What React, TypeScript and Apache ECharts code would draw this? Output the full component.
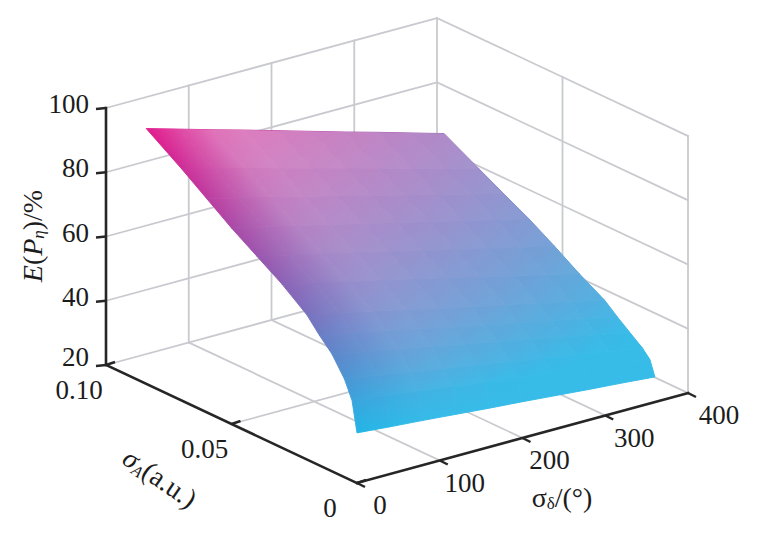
import React, { useEffect, useRef } from "react";
import * as echarts from "echarts";

// σ_A (a.u.) grid of the surface
const sigmaA = [0, 0.002, 0.005, 0.01, 0.015, 0.02, 0.03, 0.04, 0.05, 0.06, 0.07, 0.084];
// σ_δ (°) grid of the surface
const sigmaD = [0, 40, 80, 120, 160, 200, 240, 280, 320, 360];
// E(P_η) (%) — one row per σ_A value, columns follow σ_δ
const eA000 = [35.6, 34.7, 33.9, 33.0, 32.1, 31.3, 30.4, 29.5, 28.7, 27.8];
const eA002 = [45.0, 43.6, 42.2, 40.8, 39.4, 38.1, 36.7, 35.3, 33.9, 32.5];
const eA005 = [50.5, 48.8, 47.1, 45.3, 43.6, 41.9, 40.2, 38.4, 36.7, 35.0];
const eA010 = [56.5, 54.4, 52.4, 50.3, 48.3, 46.2, 44.2, 42.1, 40.1, 38.0];
const eA015 = [60.5, 58.3, 56.2, 54.0, 51.8, 49.7, 47.5, 45.3, 43.2, 41.0];
const eA020 = [65.0, 62.7, 60.4, 58.1, 55.8, 53.5, 51.2, 48.9, 46.6, 44.3];
const eA030 = [71.0, 68.5, 66.1, 63.6, 61.1, 58.7, 56.2, 53.7, 51.3, 48.8];
const eA040 = [76.0, 73.5, 71.1, 68.6, 66.1, 63.7, 61.2, 58.7, 56.3, 53.8];
const eA050 = [81.0, 78.5, 76.0, 73.5, 71.0, 68.5, 66.0, 63.5, 61.0, 58.5];
const eA060 = [86.6, 83.9, 81.3, 78.6, 75.9, 73.3, 70.6, 67.9, 65.3, 62.6];
const eA070 = [92.2, 89.4, 86.6, 83.7, 80.9, 78.1, 75.3, 72.4, 69.6, 66.8];
const eA084 = [99.5, 96.5, 93.5, 90.6, 87.6, 84.6, 81.6, 78.7, 75.7, 72.7];
const eRows = [eA000, eA002, eA005, eA010, eA015, eA020, eA030, eA040, eA050, eA060, eA070, eA084];

// axis ticks
const zTicks = [20, 40, 60, 80, 100];
const zTickLabels = ["20", "40", "60", "80", "100"];
const aTicks = [0, 0.05, 0.1];
const aTickLabels = ["0", "0.05", "0.10"];
const dTicks = [0, 100, 200, 300, 400];
const dTickLabels = ["0", "100", "200", "300", "400"];

const A_MIN = 0, A_MAX = 0.1, D_MIN = 0, D_MAX = 400, Z_MIN = 20, Z_MAX = 100;

// orthographic view of the 3D box onto the page
const ORIGIN = [357, 483];
const VD = [0.8275, -0.225];
const VA = [-2510, -1180];
const VZ = -3.2125;
function proj(a: number, d: number, z: number): number[] {
  return [
    ORIGIN[0] + VD[0] * d + VA[0] * a,
    ORIGIN[1] + VD[1] * d + VA[1] * a + VZ * (z - Z_MIN),
  ];
}

const FONT = "'Liberation Serif', 'Times New Roman', serif";
const TXT = "#1c1c1c";
const GRID_COL = "#c9cacf";
const AXIS_COL = "#262626";
const FS = 27;

const allE = eRows.flat();
const eMax = Math.max(...allE);
const C_FLOOR = 38;
const LO = [36, 181, 230];
const HI = [228, 26, 140];
function fracOf(v: number) {
  return Math.max(0, Math.min(1, (v - C_FLOOR) / (eMax - C_FLOOR)));
}
function colorOf(v: number): string {
  const f = fracOf(v);
  const c = [0, 1, 2].map((k) => Math.round(LO[k] + (HI[k] - LO[k]) * f));
  return `rgb(${c[0]},${c[1]},${c[2]})`;
}
function sheen(d: number, v: number): number {
  return 0.44 * Math.min(1, d / 90) * (0.2 + 0.8 * fracOf(v));
}

type Seg = { p: number[]; q: number[]; col: string; w: number };

export default function App() {
  const ref = useRef<HTMLDivElement>(null);
  useEffect(() => {
    if (!ref.current) return;
    const chart = echarts.init(ref.current, null, { renderer: "svg" });

    // box grid lines
    const gridSegs: Seg[] = [];
    const g = (a1: number, d1: number, z1: number, a2: number, d2: number, z2: number) =>
      gridSegs.push({ p: [a1, d1, z1], q: [a2, d2, z2], col: GRID_COL, w: 1.8 });
    zTicks.forEach((z) => g(A_MAX, D_MIN, z, A_MAX, D_MAX, z));
    dTicks.filter((d) => d > D_MIN).forEach((d) => g(A_MAX, d, Z_MIN, A_MAX, d, Z_MAX));
    zTicks.forEach((z) => g(A_MAX, D_MAX, z, A_MIN, D_MAX, z));
    aTicks.filter((a) => a < A_MAX).forEach((a) => g(a, D_MAX, Z_MIN, a, D_MAX, Z_MAX));
    dTicks.filter((d) => d > D_MIN && d < D_MAX).forEach((d) => g(A_MIN, d, Z_MIN, A_MAX, d, Z_MIN));
    aTicks.filter((a) => a > A_MIN && a < A_MAX).forEach((a) => g(a, D_MIN, Z_MIN, a, D_MAX, Z_MIN));

    // surface cells, far to near
    const cells: number[][] = [];
    for (let i = sigmaA.length - 2; i >= 0; i--)
      for (let j = sigmaD.length - 2; j >= 0; j--) cells.push([i, j]);

    const cellCorners = (api: any, i: number, j: number) => {
      const corner = (a: number, b: number) => api.coord(proj(sigmaA[a], sigmaD[b], eRows[a][b]));
      return [corner(i, j), corner(i, j + 1), corner(i + 1, j + 1), corner(i + 1, j)];
    };

    // dark axes
    const axisSegs: Seg[] = [
      { p: [A_MAX, D_MIN, Z_MIN], q: [A_MAX, D_MIN, Z_MAX], col: AXIS_COL, w: 2.6 },
      { p: [A_MAX, D_MIN, Z_MIN], q: [A_MIN, D_MIN, Z_MIN], col: AXIS_COL, w: 2.6 },
      { p: [A_MIN, D_MIN, Z_MIN], q: [A_MIN, D_MAX, Z_MIN], col: AXIS_COL, w: 2.6 },
    ];
    // ticks: [a, d, z, dx, dy]
    const tickDefs: number[][] = [];
    zTicks.forEach((z) => tickDefs.push([A_MAX, D_MIN, z, -10, 1]));
    aTicks.forEach((a) => tickDefs.push([a, D_MIN, Z_MIN, 9, -3]));
    dTicks.forEach((d) => tickDefs.push([A_MIN, d, Z_MIN, 8, 4]));

    // tick labels: [a, d, z, dx, dy, text, align]
    const labels: any[] = [];
    zTicks.forEach((z, k) => labels.push([A_MAX, D_MIN, z, -17, k === 0 ? -8 : -4, zTickLabels[k], "right"]));
    aTicks.forEach((a, k) => labels.push([a, D_MIN, Z_MIN, -27, 25, aTickLabels[k], "center"]));
    dTicks.forEach((d, k) => labels.push([A_MIN, d, Z_MIN, 23 + k * 2, 22, dTickLabels[k], "center"]));

    const segRender = (segs: Seg[]) => (params: any, api: any) => {
      const s = segs[params.dataIndex];
      const p = api.coord(proj(s.p[0], s.p[1], s.p[2]));
      const q = api.coord(proj(s.q[0], s.q[1], s.q[2]));
      return {
        type: "line",
        shape: { x1: p[0], y1: p[1], x2: q[0], y2: q[1] },
        style: { stroke: s.col, lineWidth: s.w, lineCap: "square" },
      };
    };

    const base = {
      type: "custom",
      coordinateSystem: "cartesian2d",
      silent: true,
      clip: false,
    };

    chart.setOption({
      animation: false,
      backgroundColor: "#ffffff",
      grid: { left: 0, right: 0, top: 0, bottom: 0 },
      xAxis: { type: "value", min: 0, max: 770, show: false },
      yAxis: { type: "value", min: 0, max: 538, inverse: true, show: false },
      series: [
        {
          ...base,
          name: "box",
          z: 1,
          data: gridSegs.map((_, i) => [i, 0]),
          renderItem: segRender(gridSegs),
        },
        {
          ...base,
          name: "surface",
          z: 2,
          data: cells.map((_, i) => [i, 0]),
          renderItem: (params: any, api: any) => {
            const [i, j] = cells[params.dataIndex];
            const [p00, p01, p11, p10] = cellCorners(api, i, j);
            const v0 = (eRows[i][j] + eRows[i][j + 1]) / 2;
            const v1 = (eRows[i + 1][j] + eRows[i + 1][j + 1]) / 2;
            const s = [(p00[0] + p01[0]) / 2, (p00[1] + p01[1]) / 2];
            const e = [(p10[0] + p11[0]) / 2, (p10[1] + p11[1]) / 2];
            const fill = {
              type: "linear",
              x: s[0],
              y: s[1],
              x2: e[0],
              y2: e[1],
              global: true,
              colorStops: [
                { offset: 0, color: colorOf(v0) },
                { offset: 1, color: colorOf(v1) },
              ],
            };
            return {
              type: "polygon",
              shape: { points: [p00, p01, p11, p10] },
              style: { fill, stroke: fill, lineWidth: 0.9, lineJoin: "round" },
            };
          },
        },
        {
          ...base,
          name: "surface sheen",
          z: 2,
          data: cells.map((_, i) => [i, 0]),
          renderItem: (params: any, api: any) => {
            const [i, j] = cells[params.dataIndex];
            const [p00, p01, p11, p10] = cellCorners(api, i, j);
            const vc = (eRows[i][j] + eRows[i][j + 1] + eRows[i + 1][j] + eRows[i + 1][j + 1]) / 4;
            const ex = p10[0] - p00[0], ey = p10[1] - p00[1];
            const len = Math.hypot(ex, ey) || 1;
            const nx = -ey / len, ny = ex / len;
            const dist = (p01[0] - p00[0]) * nx + (p01[1] - p00[1]) * ny;
            const a0 = sheen(sigmaD[j], vc);
            const a1 = sheen(sigmaD[j + 1], vc);
            const overlay = {
              type: "linear",
              x: p00[0],
              y: p00[1],
              x2: p00[0] + nx * dist,
              y2: p00[1] + ny * dist,
              global: true,
              colorStops: [
                { offset: 0, color: `rgba(255,255,255,${a0.toFixed(3)})` },
                { offset: 1, color: `rgba(255,255,255,${a1.toFixed(3)})` },
              ],
            };
            return {
              type: "polygon",
              shape: { points: [p00, p01, p11, p10] },
              style: { fill: overlay },
            };
          },
        },
        {
          ...base,
          name: "axes",
          z: 3,
          data: axisSegs.map((_, i) => [i, 0]),
          renderItem: segRender(axisSegs),
        },
        {
          ...base,
          name: "ticks",
          z: 3,
          data: tickDefs.map((_, i) => [i, 0]),
          renderItem: (params: any, api: any) => {
            const t = tickDefs[params.dataIndex];
            const p = api.coord(proj(t[0], t[1], t[2]));
            return {
              type: "line",
              shape: { x1: p[0], y1: p[1], x2: p[0] + t[3], y2: p[1] + t[4] },
              style: { stroke: AXIS_COL, lineWidth: 2.4 },
            };
          },
        },
        {
          ...base,
          name: "labels",
          z: 4,
          data: labels.map((_, i) => [i, 0]),
          renderItem: (params: any, api: any) => {
            const l = labels[params.dataIndex];
            const p = api.coord(proj(l[0], l[1], l[2]));
            return {
              type: "text",
              x: p[0] + l[3],
              y: p[1] + l[4],
              style: {
                text: l[5],
                fontFamily: FONT,
                fontSize: FS,
                fill: TXT,
                align: l[6],
                verticalAlign: "middle",
              },
            };
          },
        },
      ],
      graphic: [
        {
          type: "text",
          x: 32,
          y: 236,
          rotation: Math.PI / 2,
          silent: true,
          style: {
            text: "{i|E}{n|(}{i|P}{s|η}{n|)/%}",
            align: "center",
            verticalAlign: "middle",
            rich: {
              i: { fontFamily: FONT, fontSize: 28, fontStyle: "italic", fill: TXT, lineHeight: 30 },
              n: { fontFamily: FONT, fontSize: 28, fill: TXT, lineHeight: 30 },
              s: { fontFamily: FONT, fontSize: 17, fontStyle: "italic", fill: TXT, verticalAlign: "bottom", lineHeight: 19, padding: [9, 0, 0, 0] },
            },
          },
        },
        {
          type: "text",
          x: 160,
          y: 478,
          rotation: -0.6,
          silent: true,
          style: {
            text: "{i|σ}{s|A}{n|(a.u.)}",
            align: "center",
            verticalAlign: "middle",
            rich: {
              i: { fontFamily: FONT, fontSize: 28, fontStyle: "italic", fill: TXT, lineHeight: 30 },
              n: { fontFamily: FONT, fontSize: 28, fill: TXT, lineHeight: 30 },
              s: { fontFamily: FONT, fontSize: 16, fontStyle: "italic", fill: TXT, verticalAlign: "bottom", lineHeight: 19, padding: [9, 0, 0, 0] },
            },
          },
        },
        {
          type: "text",
          x: 562,
          y: 497,
          silent: true,
          style: {
            text: "{n|σ}{s|δ}{n|/(°)}",
            align: "center",
            verticalAlign: "middle",
            rich: {
              n: { fontFamily: FONT, fontSize: 28, fill: TXT, lineHeight: 30 },
              s: { fontFamily: FONT, fontSize: 17, fill: TXT, verticalAlign: "bottom", lineHeight: 19, padding: [9, 0, 0, 0] },
            },
          },
        },
      ],
    });
    return () => chart.dispose();
  }, []);
  return (
    <div
      ref={ref}
      style={{ position: "fixed", left: 0, top: 0, width: 770, height: 538, background: "#fff" }}
    />
  );
}
